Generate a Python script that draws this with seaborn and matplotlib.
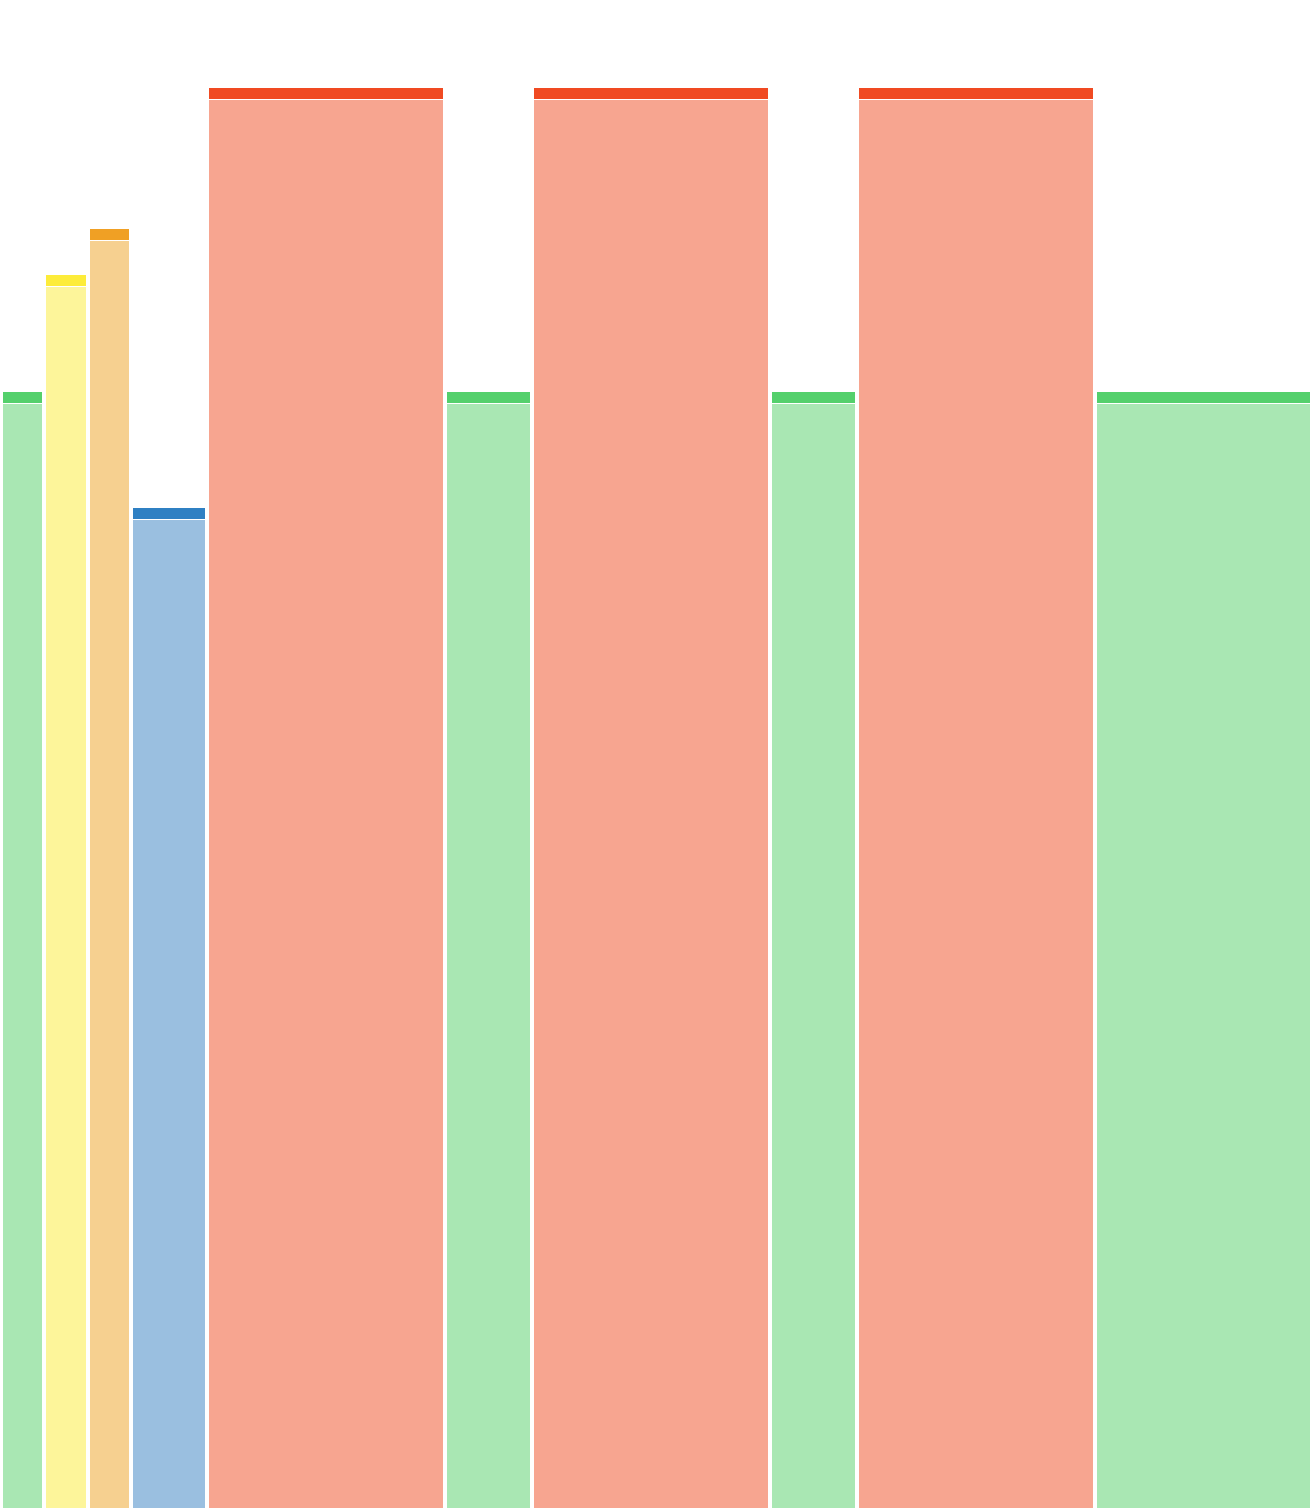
import matplotlib
matplotlib.use("Agg")
import matplotlib.pyplot as plt
import seaborn as sns
import numpy as np
import pandas as pd

# ---- data ----
categories = ["A", "B", "C", "D", "E", "F", "G", "H", "I", "J"]
widths = [1, 1, 1, 1.75, 5.5, 2, 5.5, 2, 5.5, 5]
values = [78.6, 86.8, 90.1, 70.4, 100, 78.6, 100, 78.6, 100, 78.6]
groups = ["green", "yellow", "orange", "blue", "red", "green", "red", "green", "red", "green"]

light = {"green": "#A9E7B3", "yellow": "#FDF59A", "orange": "#F6D090",
         "blue": "#9ABFE0", "red": "#F7A590"}
dark = {"green": "#54D06C", "yellow": "#FDEC3A", "orange": "#F0A024",
        "blue": "#2F80C3", "red": "#F04A22"}

df = pd.DataFrame({"cat": categories, "w": widths, "v": values, "g": groups})

sns.set_theme(style="white")
fig = plt.figure(figsize=(13.12, 15.08), dpi=100)
ax = fig.add_axes([0, 0, 1, 1])

gap = 0.092
band = 0.775
sep = 0.07
lefts = np.concatenate([[0], np.cumsum(df["w"].values)[:-1]])

ax.bar(lefts + gap / 2, df["v"] - band - sep, width=df["w"] - gap, align="edge",
       color=[light[g] for g in df["g"]], linewidth=0)
ax.bar(lefts + gap / 2, band, bottom=df["v"] - band, width=df["w"] - gap, align="edge",
       color=[dark[g] for g in df["g"]], linewidth=0)

ax.set_xlim(-0.023, 30.249)
ax.set_ylim(0, 106.2)
ax.axis("off")
sns.despine(ax=ax, left=True, bottom=True)

fig.savefig("out.png", dpi=100, facecolor="white")
